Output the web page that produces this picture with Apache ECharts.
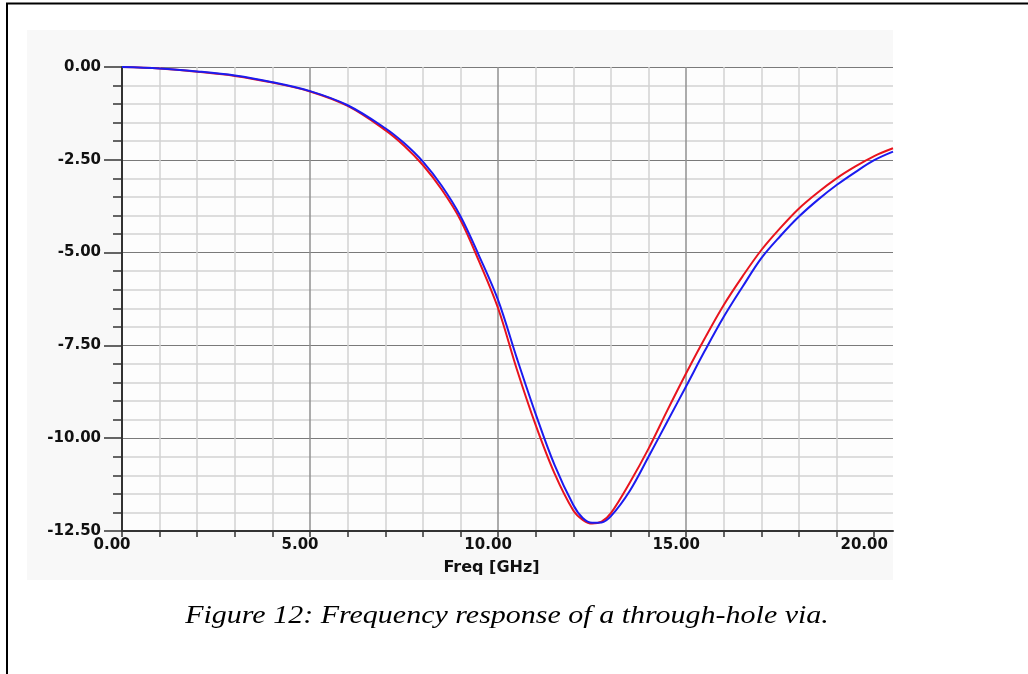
<!DOCTYPE html>
<html>
<head>
<meta charset="utf-8">
<script src="https://cdn.jsdelivr.net/npm/echarts@6/dist/echarts.min.js"></script>
<style>
html,body{margin:0;padding:0;background:#fff;}
#chart{width:1028px;height:674px;}
</style>
</head>
<body>
<div id="chart"></div>
<script>
// ---- data ----
const freq = [0,1,2,3,4,5,6,7,7.5,8,8.5,9,9.5,10,10.5,11,11.5,12,12.25,12.5,12.75,13,13.5,14,14.5,15,15.5,16,16.5,17,17.5,18,18.5,19,19.5,20,20.5];
const redSeries = [0,-0.04,-0.13,-0.24,-0.42,-0.66,-1.05,-1.70,-2.12,-2.64,-3.30,-4.12,-5.25,-6.50,-8.15,-9.65,-10.95,-11.95,-12.2,-12.3,-12.25,-12.02,-11.2,-10.28,-9.25,-8.25,-7.3,-6.41,-5.64,-4.93,-4.34,-3.81,-3.38,-3.0,-2.68,-2.40,-2.19];
const blueSeries = [0,-0.04,-0.12,-0.23,-0.41,-0.65,-1.03,-1.65,-2.05,-2.55,-3.2,-4.02,-5.1,-6.28,-7.85,-9.35,-10.72,-11.8,-12.15,-12.28,-12.27,-12.1,-11.42,-10.5,-9.55,-8.6,-7.64,-6.73,-5.92,-5.15,-4.56,-4.03,-3.58,-3.18,-2.83,-2.51,-2.28];
const xTickLabels = ['0.00','5.00','10.00','15.00','20.00'];
const yTickLabels = ['0.00','-2.50','-5.00','-7.50','-10.00','-12.50'];
const xAxisTitle = 'Freq [GHz]';
const caption = 'Figure 12: Frequency response of a through-hole via.';

const xMajorValues = [0,5,10,15,20];
const xMinorValues = [0,1,2,3,4,5,6,7,8,9,10,11,12,13,14,15,16,17,18,19,20];

const chart = echarts.init(document.getElementById('chart'), null, {renderer:'canvas'});
const labelFont = {fontFamily:'DejaVu Sans', fontWeight:'bold', fontSize:15, color:'#111'};

const option = {
  animation:false,
  backgroundColor:'#ffffff',
  grid:{left:122, top:67, width:771, height:464, containLabel:false},
  xAxis:{
    type:'value', min:0, max:20.5, interval:1, position:'bottom',
    axisLine:{show:true, onZero:false, lineStyle:{color:'#333', width:2}},
    axisTick:{show:true, length:6, customValues:xMinorValues, lineStyle:{color:'#333', width:1.5}},
    axisLabel:Object.assign({
      margin:7, customValues:xMajorValues,
      padding:[0,20,0,0],
      formatter:function(v){ const i = xMajorValues.indexOf(v); return i>=0 ? xTickLabels[i] : ''; }
    }, labelFont),
    splitLine:{show:true, showMinLine:true, showMaxLine:false,
      lineStyle:{color:['#909090','#d2d2d2','#d2d2d2','#d2d2d2','#d2d2d2'], width:1.5}},
    name:xAxisTitle, nameLocation:'middle', nameGap:29,
    nameTextStyle:{fontFamily:'DejaVu Sans', fontWeight:'bold', fontSize:16, color:'#111', padding:[0,32,0,0]}
  },
  yAxis:{
    type:'value', min:-12.5, max:0, interval:2.5,
    axisLine:{show:true, onZero:false, lineStyle:{color:'#333', width:2}},
    axisTick:{show:true, length:18, lineStyle:{color:'#333', width:1.5}},
    minorTick:{show:true, splitNumber:5, length:9, lineStyle:{color:'#333', width:1.5}},
    minorSplitLine:{show:true, lineStyle:{color:'#d2d2d2', width:1.5}},
    splitLine:{show:true, lineStyle:{color:'#7a7a7a', width:1.2}},
    axisLabel:Object.assign({
      margin:21,
      formatter:function(v){ const idx = Math.round(-v/2.5); return yTickLabels[idx] !== undefined ? yTickLabels[idx] : ''; }
    }, labelFont)
  },
  graphic:[
    {type:'rect', z:-10, shape:{x:27, y:30, width:866, height:550}, style:{fill:'#f8f8f8'}, silent:true},
    {type:'rect', z:-9, shape:{x:122, y:67, width:771, height:464}, style:{fill:'#fdfdfd'}, silent:true},
    {type:'line', shape:{x1:6, y1:3.5, x2:1028, y2:3.5}, style:{stroke:'#000', lineWidth:2}},
    {type:'line', shape:{x1:7, y1:3, x2:7, y2:674}, style:{stroke:'#000', lineWidth:2}},
    {type:'text', x:507, y:616, scaleX:1.2, originX:0, originY:0,
      style:{text:caption, font:"italic 25px 'Liberation Serif', 'Times New Roman', serif", fill:'#000', align:'center', verticalAlign:'middle'}}
  ],
  series:[
    {type:'line', name:'red', data:freq.map((f,i)=>[f, redSeries[i]]), smooth:0.35, showSymbol:false,
      lineStyle:{color:'#e8141e', width:2}, z:3},
    {type:'line', name:'blue', data:freq.map((f,i)=>[f, blueSeries[i]]), smooth:0.35, showSymbol:false,
      lineStyle:{color:'#1b1bf0', width:2}, z:4}
  ]
};
chart.setOption(option);
</script>
</body>
</html>
